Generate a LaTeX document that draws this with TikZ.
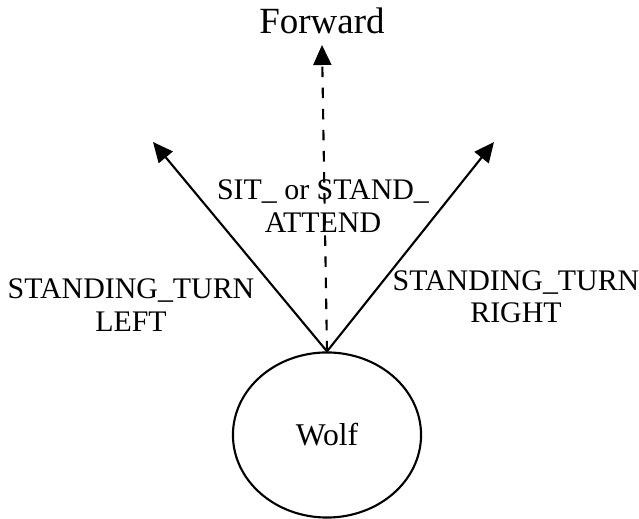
\documentclass[tikz,border=0pt]{standalone}
\usepackage{fontspec}
\setmainfont{Liberation Serif}
\usepackage{tikz}
\usetikzlibrary{shapes.geometric, positioning, arrows.meta}

\begin{document}
\begin{tikzpicture}[x=0.01cm, y=-0.01cm]
    % Styles
    \tikzstyle{body} = [ellipse, draw, line width=0.6pt, minimum width=1.88cm, minimum height=1.65cm, inner sep=0pt]
    \tikzstyle{label} = [align=center, font=\fontsize{8.5}{9.2}\selectfont, inner sep=0pt]
    \tikzstyle{line} = [draw, -{Triangle[length=0.2cm, width=0.18cm]}, line width=0.6pt]

    \useasboundingbox (0,0) rectangle (639,519);

    % Nodes
    \node [body] (wolf) at (327,435) {};
    \node [label, font=\fontsize{9}{10}\selectfont] at (wolf.center) {Wolf};
    \coordinate (fwdTip) at (322,45);
    \coordinate (leftTip) at (153,142);
    \coordinate (rightTip) at (494,142);
    \node [label, font=\fontsize{10.5}{11}\selectfont, above=0.1cm of fwdTip] (forward) {Forward};
    \node [label] (attend) at (323,206) {SIT\_ or STAND\_\\ATTEND};
    \node [label] (turnleft) at (131,305) {STANDING\_TURN\\LEFT};
    \node [label] (turnright) at (516,297) {STANDING\_TURN\\RIGHT};

    % Paths
    \path [line, dashed] (wolf.north) -- (fwdTip);
    \path [line] (wolf.north) -- (leftTip);
    \path [line] (wolf.north) -- (rightTip);
\end{tikzpicture}
\end{document}
